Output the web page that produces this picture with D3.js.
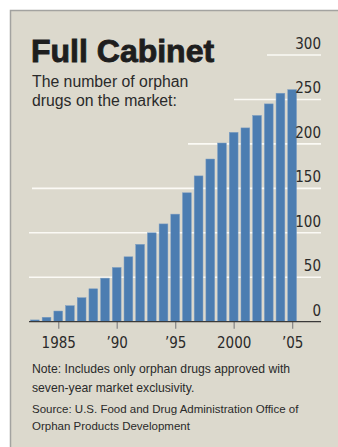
<!DOCTYPE html>
<html>
<head>
<meta charset="utf-8">
<script src="https://cdn.jsdelivr.net/npm/d3@7"></script>
<style>
  body { margin: 0; background: #fff; }
  svg { display: block; }
</style>
</head>
<body>
<svg id="graph"></svg>
<script>
// data
const years = d3.range(1983, 2006)
const drugs = [2, 5, 12, 18, 27, 37, 49, 61, 73, 87, 100, 110, 121, 145, 164, 183, 201, 213, 218, 232, 245, 257, 261]
const yTicks = [0, 50, 100, 150, 200, 250, 300]
const xTickYears = [1985, 1990, 1995, 2000, 2005]
const xTickLabels = ["1985", "\u201990", "\u201995", "2000", "\u201905"]

const title = "Full Cabinet"
const subtitle = ["The number of orphan", "drugs on the market:"]
const notes = ["Note: Includes only orphan drugs approved with", "seven-year market exclusivity."]
const source = ["Source: U.S. Food and Drug Administration Office of", "Orphan Products Development"]

// set the dimensions of the graph
const W = 338, H = 447
const narrow = "'Liberation Sans Narrow', 'DejaVu Sans Condensed', 'Arial Narrow', sans-serif"
const sans = "'Liberation Sans', Arial, sans-serif"

let svg = d3.select("#graph")
    .attr("width", W)
    .attr("height", H)

// beige panel with grey border
svg.append("rect")
    .attr("x", 10.5)
    .attr("y", 10.5)
    .attr("width", W)
    .attr("height", H)
    .attr("fill", "#dcd9cd")
    .attr("stroke", "#a3a3a0")
    .attr("stroke-width", 1.5)

let x = d3.scaleBand()
    .domain(years)
    .range([29, 298])
    .paddingInner(0.25)
    .paddingOuter(0.125)

let y = d3.scaleLinear()
    .domain([0, 300])
    .range([321.7, 55])

// gridlines stop short of the title block
const gridStart = {300: 267, 250: 234, 200: 188, 150: 32, 100: 29, 50: 29}
svg.selectAll(".grid")
    .data(yTicks.filter(t => t > 0))
    .join("line")
    .attr("class", "grid")
    .attr("x1", d => gridStart[d])
    .attr("x2", 321)
    .attr("y1", d => y(d))
    .attr("y2", d => y(d))
    .attr("stroke", "#fbfaf5")
    .attr("stroke-width", 1.6)

// bars
svg.selectAll(".bar")
    .data(drugs)
    .join("rect")
    .attr("class", "bar")
    .attr("x", (d, i) => x(years[i]))
    .attr("y", d => y(d))
    .attr("width", x.bandwidth())
    .attr("height", d => y(0) - y(d))
    .attr("fill", "#4c7db1")
    .attr("stroke", "#7d9dc2")
    .attr("stroke-width", 0.5)

// y labels sit above their gridlines on the right
svg.selectAll(".ylab")
    .data(yTicks)
    .join("text")
    .attr("class", "ylab")
    .attr("x", 321)
    .attr("y", d => y(d) - 6)
    .attr("text-anchor", "end")
    .attr("font-family", narrow)
    .attr("font-size", 15)
    .attr("fill", "#2a2a2a")
    .text(d => d)

// x axis
let xaxis = d3.axisBottom(d3.scaleLinear().domain([1983, 2005]).range([x(1983) + x.bandwidth() / 2, x(2005) + x.bandwidth() / 2]))
    .tickValues(xTickYears)
    .tickFormat((d, i) => xTickLabels[i])
    .tickSize(7)
    .tickPadding(9)

let gx = svg.append("g")
    .attr("transform", `translate(0,${y(0)})`)
    .call(xaxis)
gx.select(".domain").remove()
gx.selectAll("line").attr("stroke", "#8a8a8a").attr("stroke-width", 1.3)
gx.selectAll("text")
    .attr("font-family", narrow)
    .attr("font-size", 15)
    .attr("fill", "#2a2a2a")

svg.append("line")
    .attr("x1", 29)
    .attr("x2", 321)
    .attr("y1", y(0))
    .attr("y2", y(0))
    .attr("stroke", "#3a3a3a")
    .attr("stroke-width", 1.3)

// title block
svg.append("text")
    .attr("x", 31)
    .attr("y", 62)
    .attr("font-family", sans)
    .attr("font-weight", 900)
    .attr("font-size", 32)
    .attr("fill", "#1e1e1e")
    .attr("stroke", "#1e1e1e")
    .attr("stroke-width", 0.9)
    .text(title)

svg.selectAll(".sub")
    .data(subtitle)
    .join("text")
    .attr("class", "sub")
    .attr("x", 32)
    .attr("y", (d, i) => 87 + i * 19)
    .attr("font-family", sans)
    .attr("font-size", 15.8)
    .attr("fill", "#2a2a2a")
    .text(d => d)

// footnotes
svg.selectAll(".note")
    .data(notes)
    .join("text")
    .attr("class", "note")
    .attr("x", 32)
    .attr("y", (d, i) => 373 + i * 19)
    .attr("font-family", sans)
    .attr("font-size", 12.2)
    .attr("fill", "#2a2a2a")
    .text(d => d)

svg.selectAll(".src")
    .data(source)
    .join("text")
    .attr("class", "src")
    .attr("x", 32)
    .attr("y", (d, i) => 413 + i * 17)
    .attr("font-family", sans)
    .attr("font-size", 11.5)
    .attr("fill", "#2a2a2a")
    .text(d => d)
</script>
</body>
</html>
